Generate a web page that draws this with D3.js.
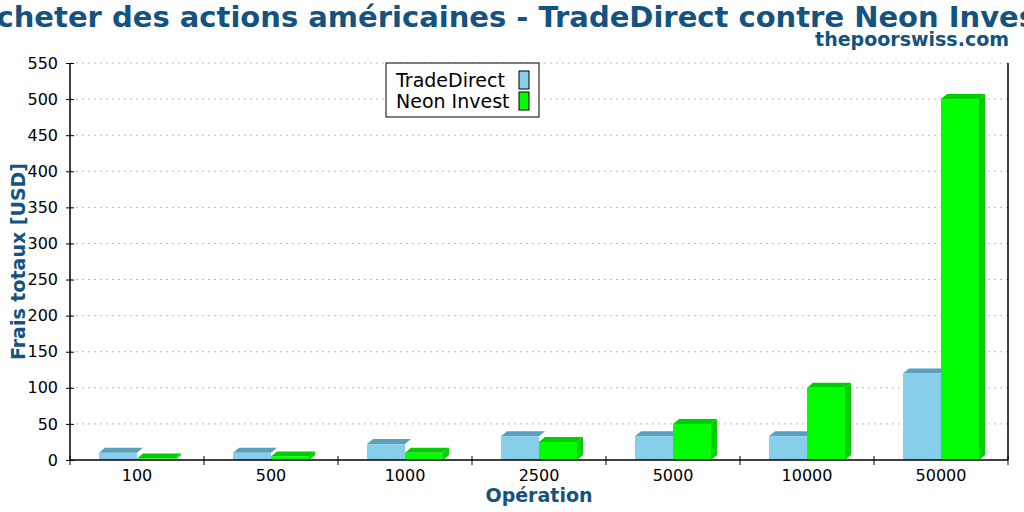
<!DOCTYPE html>
<html>
<head>
<meta charset="utf-8">
<script src="https://cdn.jsdelivr.net/npm/d3@7.9.0/dist/d3.min.js"></script>
<style>
  body { margin: 0; background: #fff; }
  text { font-family: "DejaVu Sans", sans-serif; }
</style>
</head>
<body>
<svg id="chart" width="1024" height="512"></svg>
<script>
const categories = ["100", "500", "1000", "2500", "5000", "10000", "50000"];
const seriesNames = ["TradeDirect", "Neon Invest"];
const tradeDirect = [10, 10, 22, 33, 33, 33, 120];
const neonInvest = [2, 5, 10, 25, 50, 100, 500];
const yTicks = d3.range(0, 551, 50);

const frontColors = ["#87ceeb", "#00ff00"];
const topColors = ["#5a9fbc", "#00cc00"];
const titleColor = "#14527f";

const svg = d3.select("#chart"),
      margin = { top: 63, right: 16, bottom: 52, left: 70 },
      width = +svg.attr("width"),
      height = +svg.attr("height"),
      innerWidth = width - margin.left - margin.right,
      innerHeight = height - margin.top - margin.bottom;

const chart = svg.append("g")
    .attr("transform", `translate(${margin.left},${margin.top})`);

const x0 = d3.scaleBand().domain(categories).range([0, innerWidth]);
const x1 = d3.scaleBand().domain(seriesNames).range([0, x0.bandwidth()]).paddingOuter(0.763);
const y = d3.scaleLinear().domain([0, 550]).range([innerHeight, 0]);

// grid
chart.append("g")
  .selectAll("line")
  .data(yTicks.filter(d => d > 0))
  .join("line")
    .attr("x1", 0).attr("x2", innerWidth)
    .attr("y1", d => y(d)).attr("y2", d => y(d))
    .attr("stroke", "#bbbbbb")
    .attr("stroke-dasharray", "2,4");

// bars
const dx = 6, dy = 5;
const data = [tradeDirect, neonInvest];
data.forEach((vals, si) => {
  const g = chart.append("g");
  categories.forEach((c, i) => {
    const x = x0(c) + x1(seriesNames[si]);
    const w = x1.bandwidth();
    const top = y(vals[i]), base = y(0);
    if (si === data.length - 1) {
      g.append("polygon")
        .attr("points", [[x + w, top], [x + w + dx, top - dy], [x + w + dx, base - dy], [x + w, base]].join(" "))
        .attr("fill", topColors[si]);
    }
    g.append("polygon")
      .attr("points", [[x, top], [x + dx, top - dy], [x + w + dx, top - dy], [x + w, top]].join(" "))
      .attr("fill", topColors[si]);
    g.append("rect")
      .attr("x", x).attr("y", top)
      .attr("width", w).attr("height", base - top)
      .attr("fill", frontColors[si]);
  });
});

// y axis
const yAxis = chart.append("g")
  .call(d3.axisLeft(y).tickValues(yTicks).tickSize(4).tickPadding(8));
yAxis.selectAll(".tick line").attr("x2", 4).attr("x1", -4).attr("stroke", "#000");
yAxis.select(".domain").remove();
yAxis.selectAll("text").attr("font-size", 16).attr("font-family", "DejaVu Sans").attr("fill", "#000");
chart.append("line")
  .attr("x1", 0).attr("x2", 0).attr("y1", 0).attr("y2", innerHeight)
  .attr("stroke", "#000").attr("stroke-width", 1.5);
chart.append("line")
  .attr("x1", innerWidth).attr("x2", innerWidth).attr("y1", 0).attr("y2", innerHeight)
  .attr("stroke", "#000").attr("stroke-width", 1.5);

// x axis
const xAxis = chart.append("g")
  .attr("transform", `translate(0,${innerHeight})`)
  .call(d3.axisBottom(x0).tickSize(0).tickPadding(10));
xAxis.select(".domain").remove();
xAxis.selectAll("text").attr("font-size", 16).attr("font-family", "DejaVu Sans").attr("fill", "#000");
const bounds = categories.map(c => x0(c)).concat([innerWidth]);
xAxis.selectAll(".sep")
  .data(bounds)
  .join("line")
    .attr("class", "sep")
    .attr("x1", d => d).attr("x2", d => d)
    .attr("y1", -4).attr("y2", 5)
    .attr("stroke", "#000");
xAxis.append("line")
  .attr("x1", 0).attr("x2", innerWidth)
  .attr("stroke", "#000").attr("stroke-width", 1.5);

// titles
svg.append("text")
  .attr("x", 512).attr("y", 27)
  .attr("text-anchor", "middle")
  .attr("font-size", 29).attr("font-weight", "bold")
  .attr("fill", titleColor)
  .text("Acheter des actions américaines - TradeDirect contre Neon Invest");

svg.append("text")
  .attr("x", 1009).attr("y", 46)
  .attr("text-anchor", "end")
  .attr("font-size", 19).attr("font-weight", "bold")
  .attr("fill", titleColor)
  .text("thepoorswiss.com");

svg.append("text")
  .attr("transform", `translate(25,${margin.top + innerHeight / 2}) rotate(-90)`)
  .attr("text-anchor", "middle")
  .attr("font-size", 19).attr("font-weight", "bold")
  .attr("fill", titleColor)
  .text("Frais totaux [USD]");

svg.append("text")
  .attr("x", margin.left + innerWidth / 2).attr("y", 502)
  .attr("text-anchor", "middle")
  .attr("font-size", 19).attr("font-weight", "bold")
  .attr("fill", titleColor)
  .text("Opération");

// legend
const legend = svg.append("g").attr("transform", "translate(386,63)");
legend.append("rect")
  .attr("width", 153).attr("height", 54)
  .attr("fill", "#fff").attr("stroke", "#000");
seriesNames.forEach((s, i) => {
  legend.append("text")
    .attr("x", 10).attr("y", 24 + i * 21)
    .attr("font-size", 19).attr("fill", "#000")
    .text(s);
  legend.append("rect")
    .attr("x", 133).attr("y", 8 + i * 21)
    .attr("width", 10).attr("height", 18)
    .attr("fill", frontColors[i]).attr("stroke", "#000");
});
</script>
</body>
</html>
